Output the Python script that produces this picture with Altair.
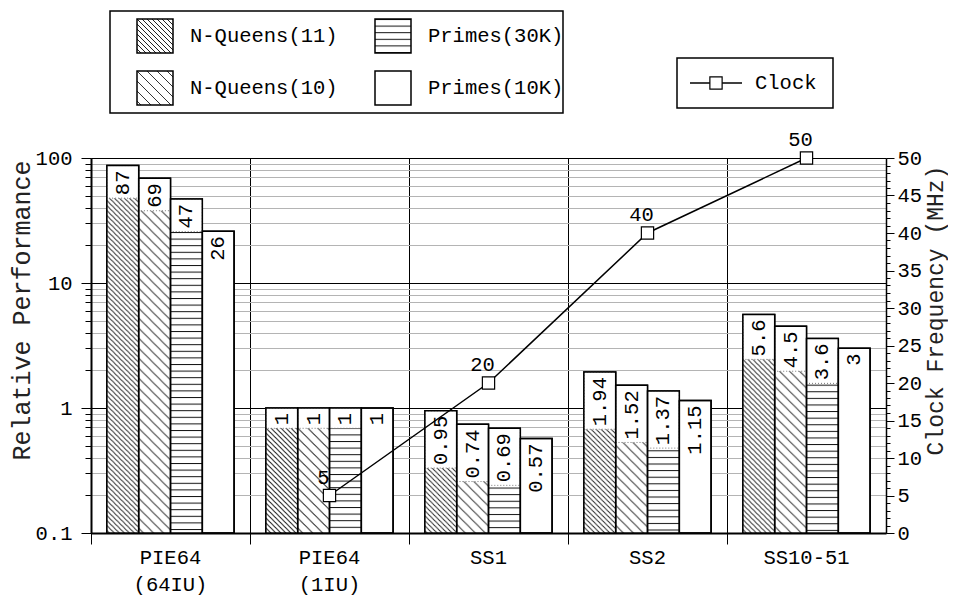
import base64
import altair as alt
import pandas as pd

# ---------------- data ----------------
GROUPS = ["PIE64 (64IU)", "PIE64 (1IU)", "SS1", "SS2", "SS10-51"]
SERIES = ["N-Queens(11)", "N-Queens(10)", "Primes(30K)", "Primes(10K)"]
NQ11 = [87, 1, 0.95, 1.94, 5.6]
NQ10 = [69, 1, 0.74, 1.52, 4.5]
P30K = [47, 1, 0.69, 1.37, 3.6]
P10K = [26, 1, 0.57, 1.15, 3]
CLOCK_GROUPS = ["PIE64 (1IU)", "SS1", "SS2", "SS10-51"]
CLOCK_MHZ = [5, 20, 40, 50]
LOG_TICKS = [0.1, 0.2, 0.3, 0.4, 0.5, 0.6, 0.7, 0.8, 0.9,
             1, 2, 3, 4, 5, 6, 7, 8, 9,
             10, 20, 30, 40, 50, 60, 70, 80, 90, 100]
MHZ_TICKS = list(range(0, 51))

FONT = "Liberation Mono"
FS = 20.5
W, H = 795, 375


# ---------------- hatch patterns (SVG images tiled at 1:1) ----------------
def hatch_url(kind):
    if kind == "diag":
        s = 5
        d = f"M-1,-1 L{s+1},{s+1} M-1,{s-1} L1,{s+1} M{s-1},-1 L{s+1},1"
        w, h = s, s
        col = "#222"
    elif kind == "diag_wide":
        s = 10
        d = f"M-1,-1 L{s+1},{s+1} M-1,{s-1} L1,{s+1} M{s-1},-1 L{s+1},1"
        w, h = s, s
        col = "#333"
    elif kind == "horiz":
        w, h = 10, 6.6
        d = "M-1,0.5 L11,0.5"
        col = "#111"
    else:
        return None
    svg = (
        '<svg xmlns="http://www.w3.org/2000/svg" width="100%" height="100%">'
        f'<defs><pattern id="p" patternUnits="userSpaceOnUse" width="{w}" height="{h}">'
        f'<path d="{d}" stroke="{col}" stroke-width="1" fill="none"/></pattern></defs>'
        '<rect width="100%" height="100%" fill="white"/>'
        '<rect width="100%" height="100%" fill="url(#p)"/></svg>'
    )
    return "data:image/svg+xml;base64," + base64.b64encode(svg.encode()).decode()


PATTERN = {
    "N-Queens(11)": hatch_url("diag"),
    "N-Queens(10)": hatch_url("diag_wide"),
    "Primes(30K)": hatch_url("horiz"),
}

rows = []
for s, vals in zip(SERIES, [NQ11, NQ10, P30K, P10K]):
    for g, v in zip(GROUPS, vals):
        rows.append({"group": g, "series": s, "v": v})
df = pd.DataFrame(rows)
df["pat"] = df["series"].map(PATTERN).fillna("")

clock_df = pd.DataFrame({"group": CLOCK_GROUPS, "mhz": CLOCK_MHZ})

# ---------------- encodings ----------------
DEC = "abs(log(datum.value)/LN10 - round(log(datum.value)/LN10)) < 0.001"

xenc = alt.X(
    "group:N", sort=GROUPS,
    scale=alt.Scale(paddingInner=0, paddingOuter=0),
    axis=alt.Axis(
        title=None, labelExpr="split(datum.label, ' ')", labelLineHeight=27,
        labelAngle=0, bandPosition=0, grid=True, gridColor="black", gridWidth=1,
        tickSize=11, tickColor="black", tickWidth=1, domainColor="black",
        domainWidth=2, labelFont=FONT, labelFontSize=FS, labelPadding=3,
        labelColor="black", labelBaseline="top",
    ),
)
xoff = alt.XOffset("series:N", sort=SERIES,
                   scale=alt.Scale(paddingOuter=0.5, paddingInner=0))

yenc = alt.Y(
    "v:Q",
    scale=alt.Scale(type="log", domain=[0.1, 100], nice=False),
    axis=alt.Axis(
        title="Relative Performance", values=LOG_TICKS,
        labelExpr=f"{DEC} ? format(datum.value, '~g') : ''",
        grid=True,
        gridColor={"condition": {"test": DEC, "value": "black"}, "value": "#b4b4b4"},
        gridWidth=1,
        tickSize={"condition": {"test": DEC, "value": 10}, "value": 6},
        tickColor="black", tickWidth=1, domainColor="black", domainWidth=2,
        labelFont=FONT, labelFontSize=FS, labelColor="black", labelPadding=9,
        titleFont=FONT, titleFontSize=25, titleFontWeight="normal",
        titleColor="#222", titleAngle=270, titleBaseline="middle",
        titleAlign="center", titleX=-70, titleY=152,
    ),
)
y2enc = alt.Y2("lo:Q")

base = alt.Chart(df).transform_calculate(lo="0.1")

white_bars = base.mark_bar(fill="white", stroke="black", strokeWidth=1.5).encode(
    x=xenc, xOffset=xoff, y=yenc, y2=y2enc
)
hatches = base.transform_filter("datum.pat != ''").mark_image(aspect=False).encode(
    x=xenc, xOffset=xoff, y=yenc, y2=y2enc, url="pat:N"
)
label_bg = base.transform_filter("datum.series != 'Primes(10K)'").transform_calculate(
    lb="datum.v / pow(10, (length(format(datum.v, '.3~g')) * 12.3 + 8) / 125)"
).mark_rect(fill="white", stroke="#777", strokeWidth=1, strokeDash=[1, 2]).encode(
    x=xenc, xOffset=xoff, y=yenc, y2=alt.Y2("lb:Q")
)
outline = base.mark_bar(fill="white", fillOpacity=0, stroke="black",
                        strokeWidth=1.5).encode(
    x=xenc, xOffset=xoff, y=yenc, y2=y2enc
)
labels = base.mark_text(angle=270, align="right", baseline="middle", dx=-5,
                        font=FONT, fontSize=FS, color="black").encode(
    x=xenc, xOffset=xoff, y=yenc, text=alt.Text("v:Q", format=".3~g")
)

bars = alt.layer(white_bars, hatches, label_bg, outline, labels)

MOD5 = "datum.value % 5 === 0"
yclk = alt.Y(
    "mhz:Q",
    scale=alt.Scale(domain=[0, 50], nice=False, zero=True),
    axis=alt.Axis(
        orient="right", title="Clock Frequency (MHz)", values=MHZ_TICKS,
        labelExpr=f"{MOD5} ? datum.label : ''", grid=False,
        tickSize={"condition": {"test": MOD5, "value": 8}, "value": 4},
        tickColor="black", tickWidth=1, domainColor="black", domainWidth=1.5,
        labelFont=FONT, labelFontSize=FS, labelColor="black", labelPadding=3,
        titleFont=FONT, titleFontSize=23, titleFontWeight="normal",
        titleColor="#222", titleAngle=270, titleBaseline="middle",
        titleAlign="center", titleX=49, titleY=152,
    ),
)
cbase = alt.Chart(clock_df)
cline = cbase.mark_line(color="black", strokeWidth=1.5).encode(x=xenc, y=yclk)
cpts = cbase.mark_point(shape="square", size=150, filled=True, fill="white",
                        stroke="black", strokeWidth=1.2, opacity=1).encode(x=xenc, y=yclk)
ctext = cbase.mark_text(dx=-6, dy=-18, font=FONT, fontSize=FS, color="black").encode(
    x=xenc, y=yclk, text="mhz:Q"
)
clock = alt.layer(cline, cpts, ctext)

main = alt.layer(bars, clock).resolve_scale(y="independent").properties(
    width=W, height=H
)

# ---------------- legend panel (layout in legend pixel space) ----------------
LEG_H = 140
LEG_BOXES = pd.DataFrame({"x": [19, 586], "x2": [472, 742], "y": [0, 47], "y2": [102, 97]})
leg_items = pd.DataFrame({
    "series": SERIES,
    "cx": [64, 64, 302, 302],
    "cy": [25, 77, 25, 77],
})
leg_items["pat"] = leg_items["series"].map(PATTERN).fillna("")
clock_leg = pd.DataFrame({"x": [599], "x2": [651], "y": [72], "cx": [625], "tx": [664],
                          "label": ["Clock"]})

lx = lambda f: alt.X(f, type="quantitative", scale=alt.Scale(domain=[0, W], nice=False, zero=False), axis=None)
ly = lambda f: alt.Y(f, type="quantitative", scale=alt.Scale(domain=[0, LEG_H], nice=False, zero=False, reverse=True), axis=None)

boxes = alt.Chart(LEG_BOXES).mark_rect(fill="white", stroke="black", strokeWidth=1.5).encode(
    x=lx("x"), x2="x2", y=ly("y"), y2="y2"
)
lbase = alt.Chart(leg_items).transform_calculate(
    x1="datum.cx - 18", x2="datum.cx + 18", y1="datum.cy - 17", y2="datum.cy + 17",
    tx="datum.cx + 35"
)
sw_fill = lbase.mark_rect(fill="white").encode(x=lx("x1"), x2="x2:Q", y=ly("y1"), y2="y2:Q")
sw_img = lbase.transform_filter("datum.pat != ''").mark_image(aspect=False).encode(
    x=lx("x1"), x2="x2:Q", y=ly("y1"), y2="y2:Q", url="pat:N"
)
sw_out = lbase.mark_rect(fill="white", fillOpacity=0, stroke="black", strokeWidth=1.5).encode(
    x=lx("x1"), x2="x2:Q", y=ly("y1"), y2="y2:Q"
)
sw_txt = lbase.mark_text(align="left", baseline="middle", font=FONT, fontSize=FS,
                         color="black").encode(x=lx("tx"), y=ly("cy"), text="series:N")
cl_rule = alt.Chart(clock_leg).mark_rule(color="black", strokeWidth=1.5).encode(
    x=lx("x"), x2="x2", y=ly("y")
)
cl_pt = alt.Chart(clock_leg).mark_point(shape="square", size=150, filled=True, fill="white",
                                        stroke="black", strokeWidth=1.2, opacity=1).encode(
    x=lx("cx"), y=ly("y")
)
cl_txt = alt.Chart(clock_leg).mark_text(align="left", baseline="middle", font=FONT,
                                        fontSize=FS, color="black").encode(
    x=lx("tx"), y=ly("y"), text="label:N"
)
legend = alt.layer(boxes, sw_fill, sw_img, sw_out, sw_txt, cl_rule, cl_pt, cl_txt).properties(
    width=W, height=LEG_H, view=alt.ViewBackground(strokeWidth=0, stroke=None)
)

chart = alt.vconcat(legend, main, spacing=7, bounds="flush").properties(
    padding={"top": 2, "left": 0, "right": 0, "bottom": 0}
).configure_view(stroke="black", strokeWidth=1.5).configure(background="white")

chart.save("out.html", embed_options={"renderer": "svg", "actions": False})
